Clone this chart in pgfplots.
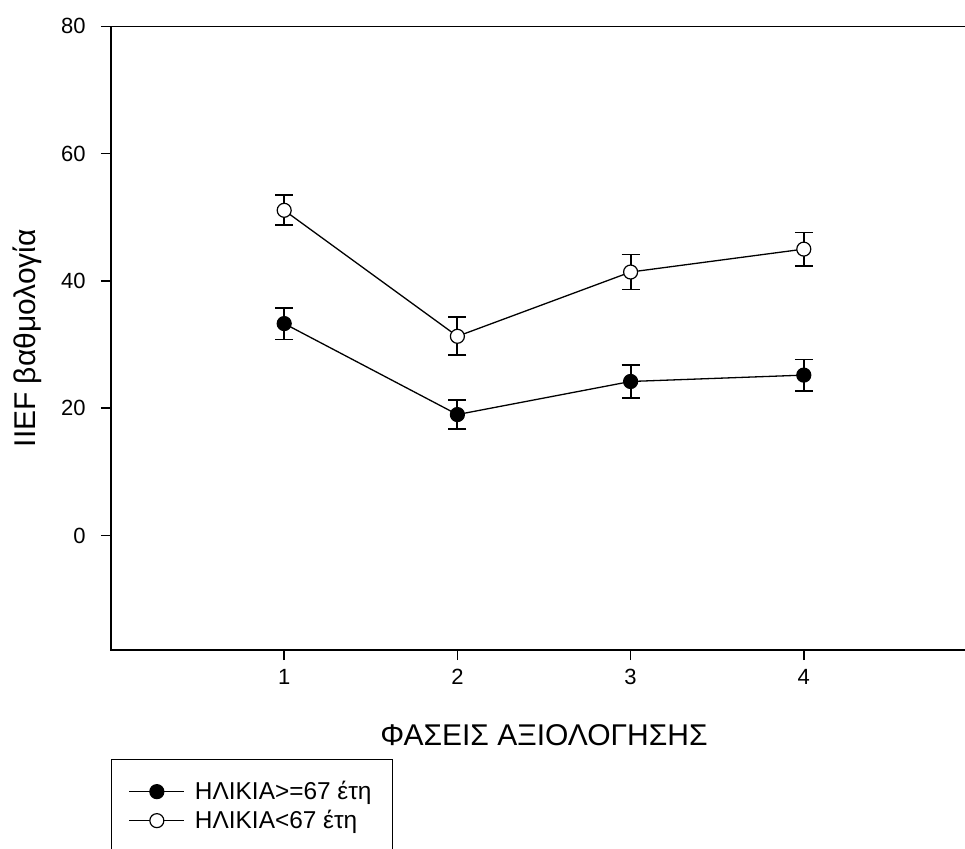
\documentclass[border=0pt]{standalone}
\usepackage{fontspec}
\setmainfont{Liberation Sans}
\usepackage{pgfplots}
\pgfplotsset{compat=1.18}
\begin{document}
\begin{tikzpicture}
\begin{axis}[
  scale only axis, width=433pt, height=311.8pt,
  xmin=0, xmax=5, ymin=-18, ymax=80,
  xtick={1,2,3,4}, ytick={0,20,40,60,80},
  tick pos=left, tick align=outside, major tick length=5pt,
  axis line style={line width=0.8pt},
  tick style={line width=0.8pt, black},
  /pgf/number format/assume math mode=true,
  ticklabel style={font=\fontsize{11}{13}\selectfont},
  yticklabel style={inner xsep=0pt, xshift=-7.5pt},
  xticklabel style={inner ysep=0pt, yshift=-4.5pt},
  xlabel={ΦΑΣΕΙΣ ΑΞΙΟΛΟΓΗΣΗΣ},
  ylabel={IIEF βαθμολογία},
  label style={font=\fontsize{15}{18}\selectfont},
  xlabel style={at={(axis description cs:0.5,-0.1363)}, anchor=center},
  ylabel style={at={(axis description cs:-0.097,0.5)}, anchor=center},
  legend style={at={(axis description cs:0,-0.1747)}, anchor=north west,
    draw=black, line width=0.7pt, inner xsep=8.5pt, inner ysep=8.75pt,
    font=\fontsize{12.2}{14}\selectfont, row sep=0pt, column sep=3pt,
    nodes={inner ysep=0pt, minimum height=14.5pt}},
  legend cell align=left,
  legend image code/.code={\draw[mark repeat=2,mark phase=2,#1] plot coordinates {(0pt,0pt) (13.75pt,0pt) (27.5pt,0pt)};},
]
\addplot[black, line width=0.65pt, mark=*, mark size=3.5pt,
  mark options={fill=black, line width=0.6pt},
  error bars/.cd, y dir=both, y explicit,
  error bar style={line width=0.9pt, solid},
  error mark options={rotate=90, mark size=4.5pt, line width=0.9pt}]
  coordinates {(1,33.3) +- (0,2.5) (2,19.0) +- (0,2.33) (3,24.2) +- (0,2.6) (4,25.2) +- (0,2.45)};
\addlegendentry{ΗΛΙΚΙΑ>=67 έτη}
\addplot[black, line width=0.65pt, mark=*, mark size=3.5pt,
  mark options={fill=white, line width=0.6pt},
  error bars/.cd, y dir=both, y explicit,
  error bar style={line width=0.9pt, solid},
  error mark options={rotate=90, mark size=4.5pt, line width=0.9pt}]
  coordinates {(1,51.1) +- (0,2.35) (2,31.3) +- (0,3.0) (3,41.4) +- (0,2.75) (4,45.0) +- (0,2.6)};
\addlegendentry{ΗΛΙΚΙΑ<67 έτη}
\end{axis}
\pgfresetboundingbox
\useasboundingbox (-55.5pt,-99pt) rectangle (427pt,325pt);
\end{tikzpicture}
\end{document}
